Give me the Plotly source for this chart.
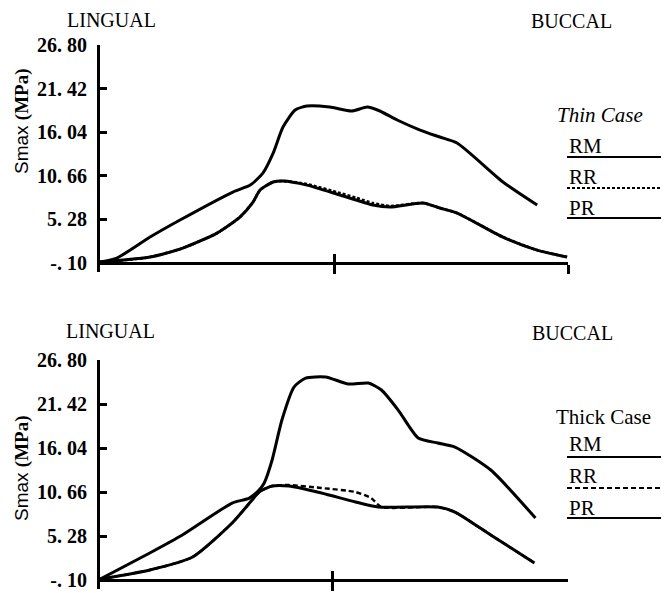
import plotly.graph_objects as go

# ---------------- data ----------------
# x positions expressed as percent of the span LINGUAL (0) -> BUCCAL (100)
thin_rm_x = [0, 3.6, 10.7, 17.1, 28.4, 32.1, 34.8, 37.0, 39.1, 41.7, 44.2, 49.1, 53.8, 57.1, 59.8, 63.5, 68.4, 72.6, 76.3, 86.1, 93.4]
thin_rm_y = [0.02, 0.52, 3.11, 5.21, 8.66, 9.52, 11.0, 13.47, 16.68, 18.78, 19.27, 19.15, 18.66, 19.15, 18.66, 17.55, 16.31, 15.45, 14.71, 9.9, 7.06]

thin_pr_x = [0, 10.7, 17.7, 25.0, 29.9, 32.7, 34.2, 37.0, 39.1, 44.2, 51.3, 58.3, 62.0, 69.0, 72.6, 76.3, 86.1, 93.4, 99.8]
thin_pr_y = [0.02, 0.64, 1.75, 3.6, 5.58, 7.43, 8.91, 9.9, 10.02, 9.52, 8.29, 7.06, 6.81, 7.3, 6.69, 6.07, 3.11, 1.5, 0.64]

thin_rr_x = [0, 10.7, 17.7, 25.0, 29.9, 32.7, 34.2, 37.0, 39.1, 44.2, 51.3, 54.9, 58.3, 62.0, 69.0, 72.6, 76.3, 86.1, 93.4, 99.8]
thin_rr_y = [0.02, 0.64, 1.75, 3.6, 5.58, 7.43, 8.91, 9.9, 10.02, 9.65, 8.54, 7.92, 7.3, 6.94, 7.3, 6.69, 6.07, 3.11, 1.5, 0.64]

thick_rm_x = [0, 10.7, 17.7, 28.4, 32.1, 34.2, 35.3, 37.0, 39.1, 41.7, 44.2, 48.5, 53.4, 57.7, 60.5, 64.1, 68.4, 72.6, 76.3, 84.0, 93.6]
thick_rm_y = [0.0, 3.2, 5.4, 9.31, 9.92, 10.9, 11.76, 14.57, 19.46, 23.49, 24.59, 24.72, 23.86, 23.98, 23.13, 20.68, 17.26, 16.65, 16.16, 13.35, 7.48]

thick_pr_x = [0, 10.7, 19.9, 28.4, 32.7, 34.2, 37.0, 40.6, 47.6, 54.9, 59.8, 72.6, 76.3, 84.0, 93.4]
thick_pr_y = [0.0, 1.12, 2.71, 6.87, 9.68, 10.66, 11.39, 11.39, 10.54, 9.44, 8.82, 8.82, 8.21, 5.4, 1.98]

thick_rr_x = [0, 10.7, 19.9, 28.4, 32.7, 34.2, 37.0, 40.6, 47.6, 54.9, 58.3, 60.5, 72.6, 76.3, 84.0, 93.4]
thick_rr_y = [0.0, 1.12, 2.71, 6.87, 9.68, 10.66, 11.39, 11.51, 11.15, 10.66, 9.92, 8.82, 8.82, 8.21, 5.4, 1.98]

ytick_vals = [-0.10, 5.28, 10.66, 16.04, 21.42, 26.80]
ytick_text = ["-. 10", "5. 28", "10. 66", "16. 04", "21. 42", "26. 80"]
series_names = ["RM", "RR", "PR"]

# ---------------- figure ----------------
W, H = 669, 593
OFF = 8  # page body margin: figure starts 8px right/down in the window
def py(pix):
    return (H - (pix - OFF)) / H
def px(pix):
    return (pix - OFF) / W

X0, X1 = px(100), px(568)
fig = go.Figure()

def add(x, y, xa, ya, dash="solid", width=3):
    fig.add_trace(go.Scatter(x=x, y=y, mode="lines", xaxis=xa, yaxis=ya,
                             line=dict(color="black", width=width,
                                       dash=dash, shape="spline", smoothing=0.6),
                             showlegend=False, hoverinfo="skip"))

add(thin_pr_x, thin_pr_y, "x", "y")
add(thin_rr_x, thin_rr_y, "x", "y", "3px,2px", 2.6)
add(thin_rm_x, thin_rm_y, "x", "y")
add(thick_pr_x, thick_pr_y, "x2", "y2")
add(thick_rr_x, thick_rr_y, "x2", "y2", "5px,3px", 2.4)
add(thick_rm_x, thick_rm_y, "x2", "y2")

tickfont = dict(family="Liberation Serif", size=20, color="black", weight="bold")
yax = dict(range=[-1.2, 26.8], tickvals=ytick_vals, ticktext=ytick_text, ticks="inside",
           ticklen=7, tickwidth=2.5, tickcolor="black", showline=True, linewidth=3, linecolor="black",
           showgrid=False, zeroline=False, tickfont=tickfont, ticklabelstandoff=6,
           automargin=False)
xax = dict(range=[0, 100], showgrid=False, zeroline=False, showline=True, linewidth=3,
           linecolor="black", ticks="outside", ticklen=9, tickwidth=2.5, tickcolor="black",
           showticklabels=False, anchor="free", domain=[X0, X1], automargin=False)

top_dom = [py(272), py(45)]
bot_dom = [py(589), py(360)]
top_xpos = py(263)
bot_xpos = py(580)

ov = dict(anchor="free", domain=[X0, X1], showgrid=False, zeroline=False, showline=False,
          ticks="inside", ticklen=9, tickwidth=2.5, showticklabels=False, tickcolor="black",
          automargin=False)

fig.update_layout(
    template="none",
    width=W, height=H, margin=dict(l=0, r=0, t=0, b=0, pad=0, autoexpand=False),
    plot_bgcolor="white", paper_bgcolor="white",
    xaxis=dict(xax, tickvals=[50, 100], position=top_xpos),
    yaxis=dict(yax, domain=top_dom, anchor="x"),
    xaxis2=dict(xax, tickvals=[50], position=bot_xpos, range=[0, 100.6]),
    yaxis2=dict(yax, domain=bot_dom, anchor="x2"),
    xaxis3=dict(ov, range=[0, 100], overlaying="x", position=top_xpos, tickvals=[50, 100]),
    xaxis4=dict(ov, range=[0, 100.6], overlaying="x2", position=bot_xpos, tickvals=[50]),
)
# invisible traces so overlay axes render
fig.add_trace(go.Scatter(x=[], y=[], xaxis="x3", yaxis="y", showlegend=False))
fig.add_trace(go.Scatter(x=[], y=[], xaxis="x4", yaxis="y2", showlegend=False))

serif = "Liberation Serif"
ann = []
def text(x, y, s, size, family=serif, xanchor="center", yanchor="middle", angle=0):
    ann.append(dict(x=px(x), y=py(y), xref="paper", yref="paper", text=s, showarrow=False,
                    font=dict(family=family, size=size, color="black"),
                    xanchor=xanchor, yanchor=yanchor, textangle=angle))

text(111, 20, "LINGUAL", 20)
text(571, 21, "BUCCAL", 20)
text(110, 331, "LINGUAL", 20)
text(572, 333, "BUCCAL", 20)
ylab = "Smax <span style='font-family:Liberation Serif'><b>(MPa)</b></span>"
text(22, 121, ylab, 19, family="Liberation Sans", angle=-90)
text(22, 468, ylab, 19, family="Liberation Sans", angle=-90)

text(555, 115, "<i>Thin Case</i>", 21, xanchor="left")
text(554, 417, "Thick Case", 21, xanchor="left")

shapes = []
def legend_block(ys_text, ys_line, rr_dash):
    for name, yt, yl in zip(series_names, ys_text, ys_line):
        text(567, yt, name, 21, xanchor="left")
        shapes.append(dict(type="line", xref="paper", yref="paper", x0=px(567), x1=1.0,
                           y0=py(yl), y1=py(yl),
                           line=dict(color="black", width=2.2,
                                     dash=rr_dash if name == "RR" else "solid")))

legend_block([146, 177, 208], [157, 188, 218], "3px,2px")
legend_block([444, 476, 508], [457, 488, 518], "5px,3px")

fig.update_layout(annotations=ann, shapes=shapes)
fig.write_html("out.html")
